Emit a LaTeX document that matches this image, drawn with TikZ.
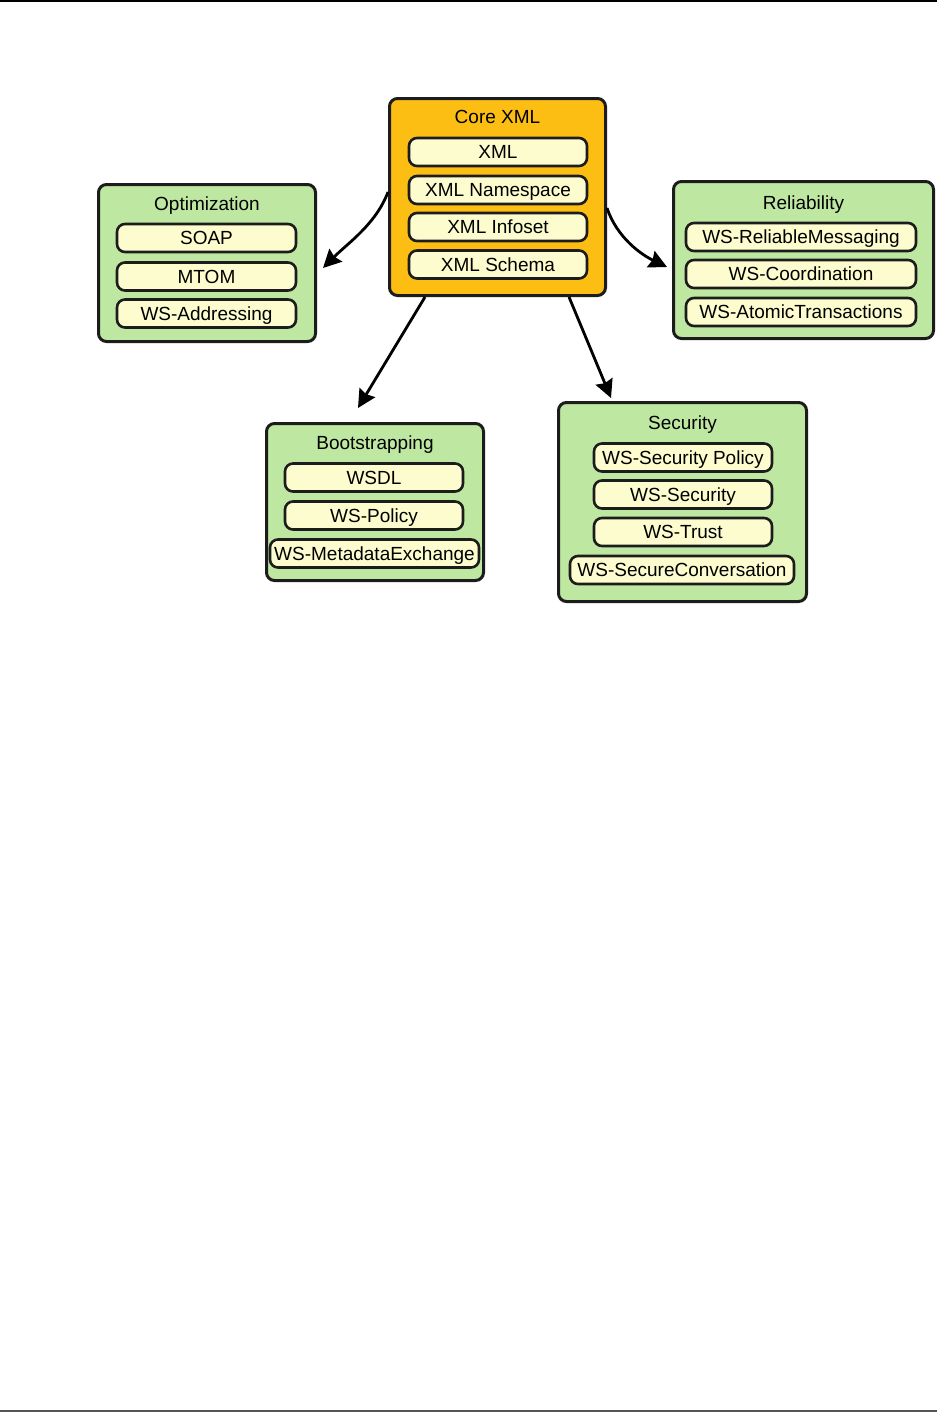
\documentclass[tikz,border=0pt]{standalone}
\usepackage{fontspec}
\setmainfont{Liberation Sans}
\usetikzlibrary{arrows.meta}
\definecolor{coreorange}{RGB}{253,190,20}
\definecolor{grpgreen}{RGB}{190,232,162}
\definecolor{itemyellow}{RGB}{252,252,206}
\definecolor{edgedark}{RGB}{28,28,28}
\definecolor{rulegray}{RGB}{85,85,85}
\begin{document}
\begin{tikzpicture}[x=1pt,y=-1pt,
  group/.style={draw=edgedark, line width=3pt, rounded corners=8pt, inner sep=0pt},
  item/.style={draw=edgedark, line width=2.6pt, fill=itemyellow, rounded corners=8pt,
    minimum height=28pt, inner sep=0pt, font=\fontsize{19}{22}\selectfont,
    text height=13.6pt, text depth=0pt},
  grptitle/.style={inner sep=0pt, font=\fontsize{19}{22}\selectfont, text height=13.6pt, text depth=0pt},
  link/.style={line width=2.8pt, draw=black, -{Stealth[length=18pt,width=18pt,inset=2pt]}}
]
\useasboundingbox (0,0) rectangle (937,1413);
\fill[white] (0,0) rectangle (937,1413);
\draw[line width=1.5pt] (0,1) -- (937,1);
\draw[line width=1.5pt, rulegray] (0,1411) -- (937,1411);

% Core XML
\node[group, fill=coreorange, minimum width=216pt, minimum height=197pt] (core) at (497.5,197) {};
\node[grptitle] (coret) at (497.5,117) {Core XML};
\node[item, minimum width=178pt] (xml) at (498,152) {XML};
\node[item, minimum width=178pt] (xmlns) at (498,190) {XML Namespace};
\node[item, minimum width=178pt] (xmlinf) at (498,227) {XML Infoset};
\node[item, minimum width=178pt] (xmlsch) at (498,264.5) {XML Schema};

% Optimization
\node[group, fill=grpgreen, minimum width=217pt, minimum height=157pt] (opt) at (207,263) {};
\node[grptitle] (optt) at (207,204) {Optimization};
\node[item, minimum width=179pt] (soap) at (206.5,238) {SOAP};
\node[item, minimum width=179pt] (mtom) at (206.5,276.5) {MTOM};
\node[item, minimum width=179pt] (wsaddr) at (206.5,313.5) {WS-Addressing};

% Reliability
\node[group, fill=grpgreen, minimum width=260pt, minimum height=157pt] (rel) at (803.5,260) {};
\node[grptitle] (relt) at (803.5,203) {Reliability};
\node[item, minimum width=230pt] (wsrm) at (801,237) {WS-ReliableMessaging};
\node[item, minimum width=230pt] (wscoord) at (801,274) {WS-Coordination};
\node[item, minimum width=230pt] (wsat) at (801,312) {WS-AtomicTransactions};

% Bootstrapping
\node[group, fill=grpgreen, minimum width=217pt, minimum height=157pt] (boot) at (375,502) {};
\node[grptitle] (boott) at (375,443) {Bootstrapping};
\node[item, minimum width=178pt] (wsdl) at (374,477.5) {WSDL};
\node[item, minimum width=178pt] (wspol) at (374,515.5) {WS-Policy};
\node[item, minimum width=209pt] (wsmex) at (374.5,553.5) {WS-MetadataExchange};

% Security
\node[group, fill=grpgreen, minimum width=248pt, minimum height=199pt] (sec) at (682.5,502) {};
\node[grptitle] (sect) at (682.5,423) {Security};
\node[item, minimum width=178pt] (wssp) at (683,457.5) {WS-Security Policy};
\node[item, minimum width=178pt] (wssec) at (683,494.5) {WS-Security};
\node[item, minimum width=178pt] (wstrust) at (683,532) {WS-Trust};
\node[item, minimum width=224pt] (wssc) at (682,570) {WS-SecureConversation};

% Connectors
\draw[link] ([yshift=5pt]core.west) .. controls +(-12,32) and +(25,-25) .. ([xshift=6pt,yshift=-5pt]opt.east);
\draw[link] ([yshift=-11pt]core.east) .. controls +(10,30) and +(-25,-12) .. ([xshift=-5pt,yshift=-7pt]rel.west);
\draw[link] ([xshift=-72.5pt]core.south) -- ([xshift=-17pt,yshift=14pt]boot.north);
\draw[link] ([xshift=71.5pt]core.south) -- ([xshift=-71.5pt,yshift=3pt]sec.north);
\end{tikzpicture}
\end{document}
